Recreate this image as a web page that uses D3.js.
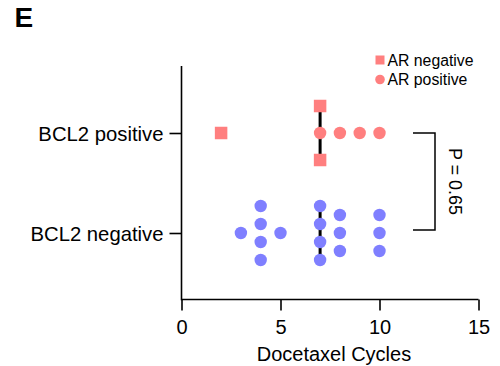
<!DOCTYPE html>
<html>
<head>
<meta charset="utf-8">
<script src="https://cdn.jsdelivr.net/npm/d3@7"></script>
<style>
  html, body { margin: 0; padding: 0; background: #fff; }
  svg { display: block; font-family: "Liberation Sans", Arial, Helvetica, sans-serif; }
</style>
</head>
<body>
<svg id="chart" width="500" height="366"></svg>
<script>
// Groups on the y axis, top to bottom
const groups = ["BCL2 positive", "BCL2 negative"];
// Docetaxel cycles per patient, split by AR status
const bcl2PosArNeg = [2, 7, 7];
const bcl2PosArPos = [7, 8, 9, 10];
const bcl2NegArNeg = [];
const bcl2NegArPos = [3, 4, 4, 4, 4, 5, 7, 7, 7, 7, 8, 8, 8, 10, 10, 10];
const xTicks = [0, 5, 10, 15];
const seriesNames = ["AR negative", "AR positive"];
const pValueLabel = "P = 0.65";

// Colour follows the BCL2 group, shape follows AR status
const groupColors = { "BCL2 positive": "#ff7f7f", "BCL2 negative": "#7f7fff" };
const stackGap = { "BCL2 positive": 27, "BCL2 negative": 18 };

const svg = d3.select("#chart");

const x = d3.scaleLinear().domain([0, 15]).range([181.5, 478.5]);
const y = d3.scalePoint().domain(groups).range([133, 233]);

// Axes
const xAxis = svg.append("g").attr("transform", "translate(0,299.5)")
  .call(d3.axisBottom(x).tickValues(xTicks).tickSize(11).tickPadding(9).tickSizeOuter(0));
const yAxis = svg.append("g").attr("transform", "translate(181.5,0)")
  .call(d3.axisLeft(y).tickSize(12).tickPadding(6).tickSizeOuter(0));

[xAxis, yAxis].forEach(g => {
  g.select(".domain").remove();
  g.selectAll("line").attr("stroke", "#000").attr("stroke-width", 1.6);
  g.selectAll("text").attr("fill", "#000").attr("font-size", 20)
    .attr("font-family", "'Liberation Sans', Arial, sans-serif");
});
yAxis.selectAll("text").attr("dy", "0.36em").attr("font-size", 20.3);
xAxis.selectAll("text").attr("dy", "0.72em");

// Axis lines
svg.append("line").attr("x1", x(0)).attr("x2", x(15)).attr("y1", 299.5).attr("y2", 299.5)
  .attr("stroke", "#000").attr("stroke-width", 1.6);
svg.append("line").attr("x1", 181.5).attr("x2", 181.5).attr("y1", 66).attr("y2", 300.3)
  .attr("stroke", "#000").attr("stroke-width", 1.6);

// Build points with vertical stacking for tied values
function buildRow(group, arNeg, arPos) {
  const pts = [];
  // AR positive first so they take the central slots
  arPos.forEach(v => pts.push({ group, value: v, series: "AR positive" }));
  arNeg.forEach(v => pts.push({ group, value: v, series: "AR negative" }));
  const byValue = d3.group(pts, d => d.value);
  byValue.forEach(list => {
    const n = list.length;
    // center-out slot order
    const slots = d3.range(n).map(i => i - (n - 1) / 2)
      .sort((a, b) => Math.abs(a) - Math.abs(b) || a - b);
    list.forEach((p, i) => { p.offset = slots[i] * stackGap[group]; });
  });
  return pts;
}

const rows = [
  buildRow("BCL2 positive", bcl2PosArNeg, bcl2PosArPos),
  buildRow("BCL2 negative", bcl2NegArNeg, bcl2NegArPos)
];

// Median lines
rows.forEach(pts => {
  const vals = pts.map(p => p.value);
  const med = d3.median(vals);
  const atMed = pts.filter(p => p.value === med);
  const ext = atMed.length ? d3.extent(atMed, p => p.offset) : [0, 0];
  const g = pts[0].group;
  svg.append("line")
    .attr("x1", x(med)).attr("x2", x(med))
    .attr("y1", y(g) + ext[0]).attr("y2", y(g) + ext[1])
    .attr("stroke", "#000").attr("stroke-width", 3);
});

// Points
const allPts = rows.flat();
const symType = { "AR negative": d3.symbolSquare, "AR positive": d3.symbolCircle };
svg.append("g").selectAll("path").data(allPts).join("path")
  .attr("transform", d => `translate(${x(d.value)},${y(d.group) + d.offset})`)
  .attr("d", d => d3.symbol().type(symType[d.series])
    .size(d.series === "AR negative" ? 12.5 * 12.5 : Math.PI * 6.2 * 6.2)())
  .attr("fill", d => groupColors[d.group]);

// Axis title
svg.append("text").attr("x", x(7.7)).attr("y", 361).attr("text-anchor", "middle")
  .attr("font-size", 20).text("Docetaxel Cycles");

// Panel letter
svg.append("text").attr("x", 14.5).attr("y", 27).attr("font-size", 28)
  .attr("font-weight", "bold").text("E");

// Legend
const legend = svg.append("g");
seriesNames.forEach((s, i) => {
  const cy = 60 + i * 19.5;
  legend.append("path")
    .attr("transform", `translate(380,${cy})`)
    .attr("d", d3.symbol().type(symType[s]).size(s === "AR negative" ? 9 * 9 : Math.PI * 4.8 * 4.8)())
    .attr("fill", groupColors["BCL2 positive"]);
  legend.append("text").attr("x", 387.5).attr("y", cy + 5.5).attr("font-size", 15.8).text(s);
});

// Significance bracket
const bTop = y("BCL2 positive"), bBot = y("BCL2 negative") - 3;
svg.append("path")
  .attr("d", `M413,${bTop}H435V${bBot}H413`)
  .attr("fill", "none").attr("stroke", "#000").attr("stroke-width", 1.5);
svg.append("text")
  .attr("transform", `translate(455,${(bTop + bBot) / 2}) rotate(90)`)
  .attr("text-anchor", "middle").attr("dy", "0.35em")
  .attr("font-size", 18).text(pValueLabel);
</script>
</body>
</html>
